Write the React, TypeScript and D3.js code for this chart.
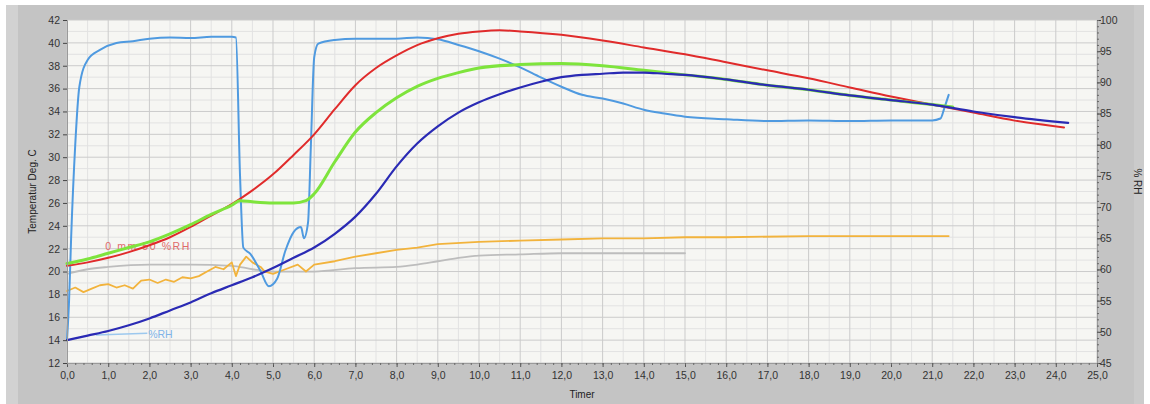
import { useEffect, useRef } from 'react';
import * as d3 from 'd3';

// time axis (Timer), 0..25
const xTicks = d3.range(0, 25.01, 1);
const leftTicks = d3.range(12, 43, 2);
const rightTicks = d3.range(45, 101, 5);

// light blue, %RH (right axis)
const rhT = [0, 0.05, 0.1, 0.2, 0.3, 0.5, 0.8, 1.2, 1.6, 2.0, 2.5, 3.0, 3.5, 4.0, 4.1, 4.2, 4.28, 4.45, 4.7, 4.9, 5.1, 5.3, 5.5, 5.68, 5.75, 5.85, 5.92, 6.0, 6.1, 6.5, 7.0, 8.0, 8.5, 9.0, 9.5, 10.0, 10.5, 11.0, 11.5, 12.0, 12.5, 13.0, 13.5, 14.0, 14.5, 15.0, 16.0, 17.0, 18.0, 19.0, 20.0, 21.0, 21.2, 21.3, 21.4];
const rhV = [48.7, 55, 65, 80, 89.3, 93.6, 95.2, 96.3, 96.6, 97.0, 97.2, 97.1, 97.3, 97.3, 97.2, 75, 63.5, 62.5, 59.7, 57.3, 58.5, 63, 66, 66.8, 65, 67.5, 80, 94, 96.2, 96.8, 97.0, 97.0, 97.2, 96.9, 96.0, 95.0, 93.8, 92.4, 90.8, 89.3, 88.0, 87.4, 86.6, 85.6, 85.0, 84.5, 84.1, 83.8, 83.9, 83.8, 83.9, 83.9, 84.2, 86, 88];

// red, temperature
const redT = [0, 0.5, 1, 1.5, 2, 2.5, 3, 3.5, 4, 4.5, 5, 5.5, 6, 6.5, 7, 7.5, 8, 8.5, 9, 9.5, 10, 10.5, 11, 12, 13, 14, 15, 16, 17, 18, 19, 20, 21, 22, 23, 24.2];
const redV = [20.5, 20.8, 21.2, 21.7, 22.3, 23.0, 23.9, 24.9, 25.9, 27.1, 28.5, 30.2, 32.0, 34.2, 36.3, 37.8, 38.9, 39.8, 40.4, 40.8, 41.0, 41.1, 41.0, 40.7, 40.2, 39.6, 39.0, 38.3, 37.6, 36.9, 36.1, 35.3, 34.6, 33.9, 33.2, 32.6];

// green, temperature
const greenT = [0, 0.5, 1, 1.5, 2, 2.5, 3, 3.5, 4, 4.2, 4.5, 5, 5.5, 5.8, 6.0, 6.5, 7, 7.5, 8, 8.5, 9, 9.5, 10, 11, 12, 13, 14, 15, 16, 17, 18, 19, 20, 21, 21.5];
const greenV = [20.7, 21.1, 21.6, 22.1, 22.6, 23.3, 24.1, 25.0, 25.8, 26.2, 26.1, 26.0, 26.0, 26.2, 26.8, 29.6, 32.2, 33.9, 35.2, 36.2, 36.9, 37.4, 37.8, 38.1, 38.2, 38.0, 37.6, 37.2, 36.8, 36.3, 35.9, 35.4, 35.0, 34.6, 34.4];

// dark blue, temperature
const navyT = [0, 0.5, 1, 1.5, 2, 2.5, 3, 3.5, 4, 4.5, 5, 5.5, 6, 6.5, 7, 7.5, 8, 8.5, 9, 9.5, 10, 10.5, 11, 11.5, 12, 12.5, 13, 13.5, 14, 14.5, 15, 16, 17, 18, 19, 20, 21, 22, 23, 24.3];
const navyV = [14.0, 14.4, 14.8, 15.3, 15.9, 16.6, 17.3, 18.1, 18.8, 19.5, 20.3, 21.2, 22.1, 23.3, 24.8, 26.8, 29.2, 31.2, 32.7, 33.9, 34.8, 35.5, 36.1, 36.6, 37.0, 37.2, 37.3, 37.4, 37.4, 37.3, 37.2, 36.8, 36.3, 35.9, 35.4, 35.0, 34.6, 34.0, 33.5, 33.0];

// orange, temperature
const orangeT = [0, 0.2, 0.4, 0.6, 0.8, 1.0, 1.2, 1.4, 1.6, 1.8, 2.0, 2.2, 2.4, 2.6, 2.8, 3.0, 3.2, 3.4, 3.6, 3.8, 4.0, 4.1, 4.2, 4.35, 4.5, 4.7, 4.8, 5.0, 5.3, 5.6, 5.8, 6.0, 6.5, 7.0, 7.5, 8.0, 8.5, 9.0, 10, 11, 12, 13, 14, 15, 16, 18, 20, 21.4];
const orangeV = [18.3, 18.6, 18.2, 18.5, 18.8, 18.9, 18.6, 18.8, 18.5, 19.2, 19.3, 19.0, 19.3, 19.1, 19.5, 19.4, 19.6, 20.0, 20.4, 20.2, 20.8, 19.6, 20.6, 21.3, 20.8, 20.4, 20.0, 19.8, 20.2, 20.6, 20.0, 20.6, 20.9, 21.3, 21.6, 21.9, 22.1, 22.4, 22.6, 22.7, 22.8, 22.9, 22.9, 23.0, 23.0, 23.1, 23.1, 23.1];

// gray, temperature
const grayT = [0, 0.5, 1, 2, 3, 4, 4.5, 5, 6, 7, 8, 8.5, 9, 9.5, 10, 11, 12, 13, 14, 15];
const grayV = [19.8, 20.2, 20.4, 20.6, 20.6, 20.5, 20.2, 20.0, 20.0, 20.3, 20.4, 20.6, 20.9, 21.2, 21.4, 21.5, 21.6, 21.6, 21.6, 21.6];

const zip = (t: number[], v: number[]) => t.map((d, i) => [d, v[i]] as [number, number]);

export default function App() {
  const svgRef = useRef<SVGSVGElement>(null);

  useEffect(() => {
    const svg = d3.select(svgRef.current);
    svg.selectAll('*').remove();

    const W = 1150, H = 404;
    const L = 67, R = 1097, T = 20, B = 363;
    const font = '"Liberation Sans", Arial, sans-serif';

    const x = d3.scaleLinear().domain([0, 25]).range([L, R]);
    const yL = d3.scaleLinear().domain([12, 42]).range([B, T]);
    const yR = d3.scaleLinear().domain([45, 100]).range([B, T]);

    // frame
    svg.append('rect').attr('width', W).attr('height', H).attr('fill', '#ffffff');
    svg.append('rect').attr('x', 6).attr('y', 5).attr('width', W - 12).attr('height', H - 5).attr('fill', '#c4c4c4');
    svg.append('rect').attr('x', 6).attr('y', 5).attr('width', 12).attr('height', H - 5).attr('fill', '#d2d2d2');
    svg.append('rect').attr('x', W - 16).attr('y', 5).attr('width', 10).attr('height', H - 5).attr('fill', '#cbcbcb');

    // plot background
    svg.append('rect').attr('x', L).attr('y', T).attr('width', R - L).attr('height', B - T).attr('fill', '#f6f6f3');

    // grid
    const g = svg.append('g');
    d3.range(0.5, 25, 1).forEach(v => {
      g.append('line').attr('x1', x(v)).attr('x2', x(v)).attr('y1', T).attr('y2', B)
        .attr('stroke', '#e2e2e2').attr('stroke-width', 1);
    });
    d3.range(13, 42, 2).forEach(v => {
      g.append('line').attr('x1', L).attr('x2', R).attr('y1', yL(v)).attr('y2', yL(v))
        .attr('stroke', '#e2e2e2').attr('stroke-width', 1);
    });
    xTicks.forEach(v => {
      g.append('line').attr('x1', x(v)).attr('x2', x(v)).attr('y1', T).attr('y2', B)
        .attr('stroke', '#cbcbcb').attr('stroke-width', 1);
    });
    leftTicks.forEach(v => {
      g.append('line').attr('x1', L).attr('x2', R).attr('y1', yL(v)).attr('y2', yL(v))
        .attr('stroke', '#cbcbcb').attr('stroke-width', 1);
    });

    // legend-ish labels inside the plot
    svg.append('text').attr('x', x(0.93)).attr('y', yL(21.85))
      .attr('font-family', font).attr('font-size', 10.5).attr('fill', '#e06a6a')
      .attr('textLength', 84).attr('lengthAdjust', 'spacing')
      .text('0 mm 50 %RH');
    svg.append('line').attr('x1', x(0.7)).attr('x2', x(1.95)).attr('y1', yL(14.45)).attr('y2', yL(14.6))
      .attr('stroke', '#9cc8ee').attr('stroke-width', 1.5);
    svg.append('text').attr('x', x(1.97)).attr('y', yL(14.15))
      .attr('font-family', font).attr('font-size', 10.5).attr('fill', '#7fb4e8')
      .text('%RH');

    // series
    const lineL = d3.line<[number, number]>().x(d => x(d[0])).y(d => yL(d[1])).curve(d3.curveMonotoneX);
    const lineR = d3.line<[number, number]>().x(d => x(d[0])).y(d => yR(d[1])).curve(d3.curveMonotoneX);
    const lineJ = d3.line<[number, number]>().x(d => x(d[0])).y(d => yL(d[1])).curve(d3.curveLinear);

    const series: { d: string | null; color: string; w: number }[] = [
      { d: lineL(zip(grayT, grayV)), color: '#bdbdbd', w: 1.8 },
      { d: lineJ(zip(orangeT, orangeV)), color: '#f2b33c', w: 1.8 },
      { d: lineR(zip(rhT, rhV)), color: '#4f9ae0', w: 2 },
      { d: lineL(zip(redT, redV)), color: '#e02b2b', w: 2 },
      { d: lineL(zip(greenT, greenV)), color: '#7ee43c', w: 3 },
      { d: lineL(zip(navyT, navyV)), color: '#2a2ab4', w: 2.2 },
    ];
    series.forEach(s => {
      svg.append('path').attr('d', s.d).attr('fill', 'none')
        .attr('stroke', s.color).attr('stroke-width', s.w)
        .attr('stroke-linejoin', 'round').attr('stroke-linecap', 'round');
    });

    // axes
    const fmtX = (v: number) => d3.format('.1f')(v).replace('.', ',');
    const xAxis = svg.append('g').attr('transform', `translate(0,${B})`)
      .call(d3.axisBottom(x).tickValues(xTicks).tickSize(4).tickFormat(d => fmtX(+d)));
    xAxis.select('.domain').attr('stroke', '#9a9a9a');
    xAxis.selectAll('line').attr('stroke', '#555');
    xAxis.selectAll('text').attr('font-family', font).attr('font-size', 10.5).attr('fill', '#333').attr('dy', '0.9em');
    svg.append('g').attr('transform', `translate(0,${B})`)
      .call(d3.axisBottom(x).tickValues(d3.range(0, 25.001, 0.2)).tickSize(2).tickFormat(() => ''))
      .call(a => a.select('.domain').remove())
      .call(a => a.selectAll('line').attr('stroke', '#666'));

    const yAxis = svg.append('g').attr('transform', `translate(${L},0)`)
      .call(d3.axisLeft(yL).tickValues(leftTicks).tickSize(4).tickFormat(d => String(d)));
    yAxis.select('.domain').attr('stroke', '#9a9a9a');
    yAxis.selectAll('line').attr('stroke', '#444');
    yAxis.selectAll('text').attr('font-family', font).attr('font-size', 10.5).attr('fill', '#333');

    const rAxis = svg.append('g').attr('transform', `translate(${R},0)`)
      .call(d3.axisRight(yR).tickValues(rightTicks).tickSize(4).tickFormat(d => String(d)));
    rAxis.select('.domain').attr('stroke', '#9a9a9a');
    rAxis.selectAll('line').attr('stroke', '#444');
    rAxis.selectAll('text').attr('font-family', font).attr('font-size', 10.5).attr('fill', '#333').attr('x', 3);
    svg.append('g').attr('transform', `translate(${R},0)`)
      .call(d3.axisRight(yR).tickValues(d3.range(45, 100.01, 1)).tickSize(2).tickFormat(() => ''))
      .call(a => a.select('.domain').remove())
      .call(a => a.selectAll('line').attr('stroke', '#666'));

    // axis titles
    svg.append('text').attr('x', (L + R) / 2).attr('y', 398).attr('text-anchor', 'middle')
      .attr('font-family', font).attr('font-size', 10).attr('fill', '#222').text('Timer');
    svg.append('text').attr('transform', `translate(36,${(T + B) / 2}) rotate(-90)`).attr('text-anchor', 'middle')
      .attr('font-family', font).attr('font-size', 10).attr('fill', '#222').text('Temperatur Deg. C');
    svg.append('text').attr('transform', `translate(1134,${(T + B) / 2 - 10}) rotate(90)`).attr('text-anchor', 'middle')
      .attr('font-family', font).attr('font-size', 10).attr('fill', '#222').text('% RH');
  }, []);

  return (
    <svg
      ref={svgRef}
      width={1150}
      height={404}
      style={{ position: 'absolute', left: 0, top: 0, display: 'block' }}
    />
  );
}
